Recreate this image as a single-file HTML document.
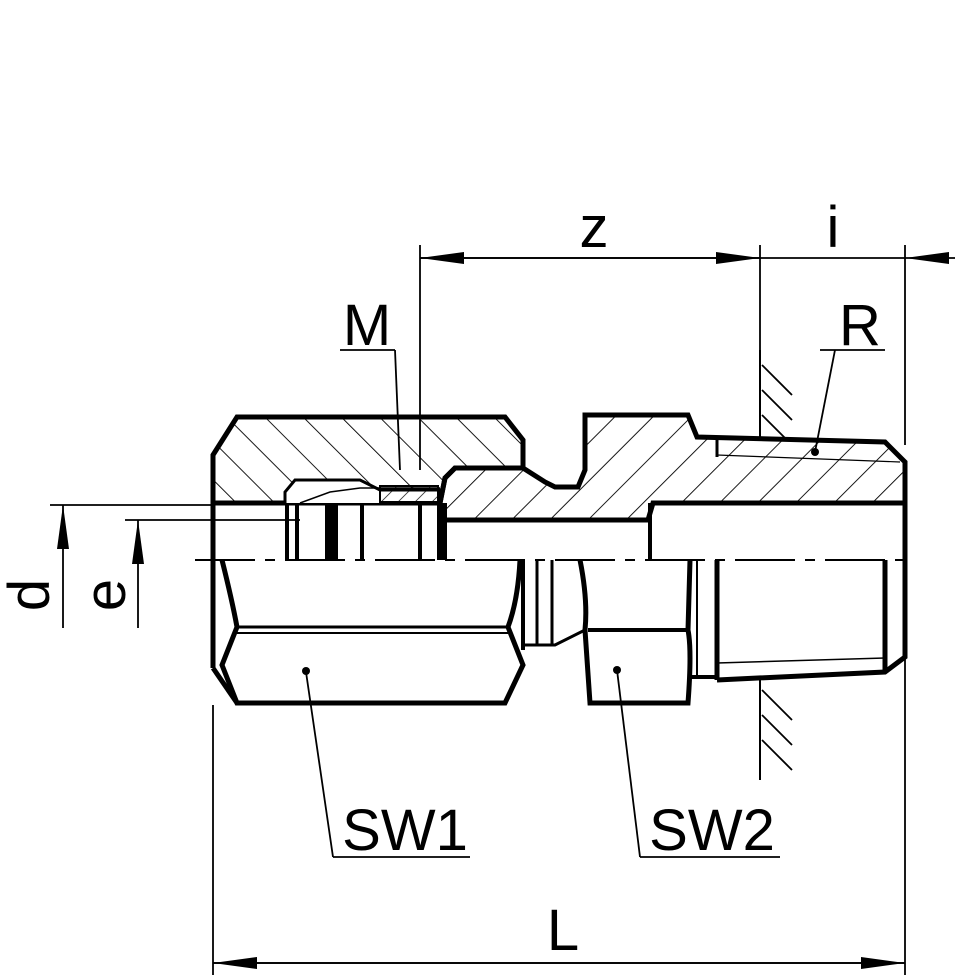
<!DOCTYPE html>
<html><head><meta charset="utf-8"><style>
html,body{margin:0;padding:0;background:#fff}
svg{display:block}
text{font-family:"Liberation Sans",Arial,sans-serif;fill:#000}
</style></head><body>
<svg width="980" height="980" viewBox="0 0 980 980" xmlns="http://www.w3.org/2000/svg">
<defs>
<pattern id="h1" patternUnits="userSpaceOnUse" width="27" height="27" patternTransform="rotate(-45)">
<line x1="0" y1="0" x2="0" y2="27" stroke="#000" stroke-width="1.8"/></pattern>
<pattern id="h2" patternUnits="userSpaceOnUse" width="27" height="27" patternTransform="rotate(45)">
<line x1="0" y1="0" x2="0" y2="27" stroke="#000" stroke-width="1.8"/></pattern>
<pattern id="h3" patternUnits="userSpaceOnUse" width="12" height="12" patternTransform="rotate(45)">
<line x1="0" y1="0" x2="0" y2="12" stroke="#000" stroke-width="1.4"/></pattern>
<marker id="a" markerWidth="44" markerHeight="14" refX="44" refY="7" orient="auto" markerUnits="userSpaceOnUse">
<path d="M0,1 L44,7 L0,13 z" fill="#000"/></marker>
</defs>
<g fill="none" stroke="#000">
<line x1="760" y1="350" x2="760" y2="440" stroke-width="2"/>
<line x1="760" y1="680" x2="760" y2="780" stroke-width="2"/>
<g stroke-width="1.8">
<line x1="762" y1="365" x2="792" y2="395"/><line x1="762" y1="390" x2="792" y2="420"/><line x1="762" y1="415" x2="787" y2="440"/>
<line x1="762" y1="690" x2="792" y2="720"/><line x1="762" y1="715" x2="792" y2="745"/><line x1="762" y1="740" x2="792" y2="770"/>
</g>
<path d="M213,455 L237,417 L505,417 L523,440 L523,468 L455,468 L445,478 L440,503 L213,503 Z" fill="url(#h1)" stroke-width="5"/>
<path d="M440,503 L445,478 L455,468 L523,468 L545,482 L555,487 L578,487 L585,470 L585,415 L688,415 L697,437 L885,442 L905,462 L905,503 L653,503 L648,520 L440,520 Z" fill="url(#h2)" stroke-width="5"/>
<line x1="717" y1="440" x2="717" y2="457" stroke-width="3"/>
<line x1="717" y1="455" x2="900" y2="462" stroke-width="1.2"/>
<path d="M285,503 L285,492 L295,480 L360,480 L380,490 L440,490 L440,503" stroke-width="3" fill="#fff"/>
<path d="M300,503 L330,492 L360,488 L440,488" stroke-width="1.5"/>
<rect x="380" y="486" width="58" height="16" fill="url(#h3)" stroke-width="2"/>
<g stroke-width="4">
<line x1="287" y1="503" x2="287" y2="560"/><line x1="297" y1="503" x2="297" y2="560"/>
<line x1="362" y1="503" x2="362" y2="560"/><line x1="420" y1="503" x2="420" y2="560"/>
</g>
<rect x="325" y="503" width="13" height="57" fill="#000" stroke="none"/>
<rect x="437" y="503" width="10" height="57" fill="#000" stroke="none"/>
<line x1="213" y1="503" x2="213" y2="668" stroke-width="5"/>
<line x1="650" y1="503" x2="650" y2="560" stroke-width="4"/>
<line x1="905" y1="503" x2="905" y2="560" stroke-width="5"/>
<path d="M222,560 Q232,600 237,627 L222,665 L237,703 L505,703 L523,665 L508,627 Q518,600 520,560" stroke-width="5"/>
<line x1="237" y1="627" x2="508" y2="627" stroke-width="3"/>
<line x1="237" y1="633" x2="508" y2="633" stroke-width="2"/>
<line x1="213" y1="668" x2="237" y2="703" stroke-width="5"/>
<line x1="523" y1="560" x2="523" y2="650" stroke-width="4"/>
<line x1="537" y1="560" x2="537" y2="645" stroke-width="3"/>
<line x1="552" y1="560" x2="552" y2="645" stroke-width="3"/>
<path d="M523,645 L555,645 L585,630" stroke-width="3"/>
<path d="M580,560 Q588,600 585,630 L590,703 L688,703 Q692,650 688,630 L690,560" stroke-width="5"/>
<line x1="588" y1="630" x2="688" y2="630" stroke-width="4"/>
<line x1="697" y1="560" x2="697" y2="677" stroke-width="2"/>
<line x1="688" y1="677" x2="717" y2="677" stroke-width="4"/>
<line x1="717" y1="560" x2="717" y2="680" stroke-width="5"/>
<path d="M717,680 L885,672 L905,657 L905,560" stroke-width="5"/>
<line x1="717" y1="663" x2="885" y2="658" stroke-width="1.5"/>
<line x1="885" y1="560" x2="885" y2="670" stroke-width="5"/>
<line x1="195" y1="560" x2="915" y2="560" stroke-width="2" stroke-dasharray="60,10,10,10"/>
<g stroke-width="1.8">
<line x1="50" y1="505" x2="213" y2="505"/><line x1="125" y1="520" x2="300" y2="520"/>
<line x1="63" y1="628" x2="63" y2="505" marker-end="url(#a)"/>
<line x1="138" y1="628" x2="138" y2="520" marker-end="url(#a)"/>
<line x1="420" y1="245" x2="420" y2="470"/>
<line x1="760" y1="245" x2="760" y2="350"/>
<line x1="905" y1="245" x2="905" y2="445"/>
<line x1="905" y1="655" x2="905" y2="975"/>
<line x1="213" y1="705" x2="213" y2="975"/>
<line x1="420" y1="258" x2="760" y2="258" marker-end="url(#a)"/>
<line x1="760" y1="258" x2="420" y2="258" marker-end="url(#a)"/>
<line x1="760" y1="258" x2="905" y2="258"/>
<line x1="955" y1="258" x2="905" y2="258" marker-end="url(#a)"/>
<line x1="213" y1="963" x2="905" y2="963" marker-end="url(#a)"/>
<line x1="905" y1="963" x2="213" y2="963" marker-end="url(#a)"/>
<line x1="340" y1="350" x2="395" y2="350"/><line x1="395" y1="350" x2="400" y2="470"/>
<line x1="820" y1="350" x2="885" y2="350"/><line x1="835" y1="350" x2="815" y2="452"/>
<line x1="333" y1="857" x2="470" y2="857"/><line x1="333" y1="857" x2="306" y2="672"/>
<line x1="640" y1="857" x2="780" y2="857"/><line x1="640" y1="857" x2="617" y2="670"/>
</g>
</g>
<g fill="#000">
<circle cx="306" cy="671" r="4"/><circle cx="617" cy="670" r="4"/><circle cx="815" cy="452" r="4"/>
</g>
<g font-size="58">
<text x="594" y="247" text-anchor="middle">z</text>
<text x="833" y="247" text-anchor="middle">i</text>
<text x="367" y="345" text-anchor="middle">M</text>
<text x="860" y="345" text-anchor="middle">R</text>
<text x="405" y="850" text-anchor="middle">SW1</text>
<text x="712" y="850" text-anchor="middle">SW2</text>
<text x="563" y="950" text-anchor="middle">L</text>
<text transform="translate(49,595) rotate(-90)" text-anchor="middle">d</text>
<text transform="translate(125,595) rotate(-90)" text-anchor="middle">e</text>
</g>
</svg>
</body></html>
